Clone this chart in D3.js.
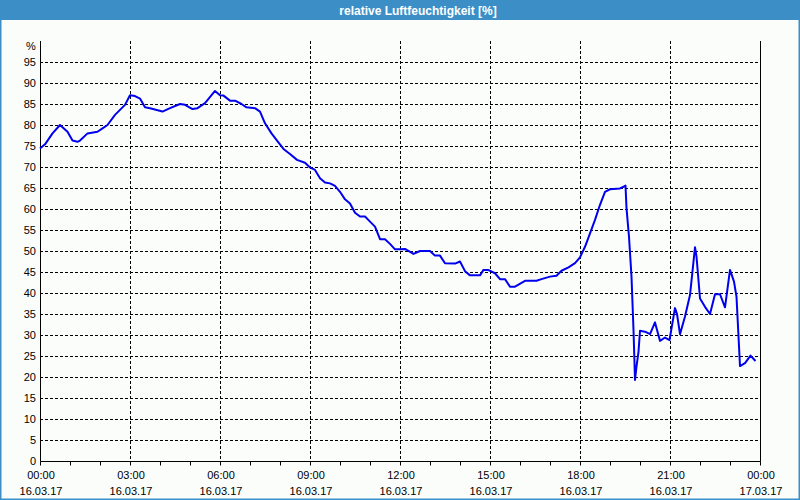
<!DOCTYPE html>
<meta charset="utf-8">
<style>
body { margin: 0; background: #fff; }
text { font-family: "Liberation Sans", Arial, sans-serif; }
</style>
<body>
<script src="https://d3js.org/d3.v7.min.js"></script>
<script>

// minutes after 16.03.17 00:00
var minutes = [
  0, 10, 25, 40, 55, 65, 75, 80, 95, 115, 125, 135, 150, 170, 180, 190, 200, 210,
  220, 245, 260, 280, 290, 305, 315, 330, 350, 360, 367, 380, 390, 403, 413, 430,
  440, 450, 463, 476, 487, 500, 514, 530, 540, 550, 560, 570, 580, 590, 600, 610,
  620, 630, 640, 650, 660, 670, 680, 690, 700, 710, 720, 730, 747, 760, 780, 790,
  800, 810, 830, 840, 850, 860, 880, 887, 896, 910, 920, 930, 940, 950, 970, 993,
  1003, 1020, 1033, 1043, 1057, 1070, 1080, 1090, 1100, 1110, 1120, 1130, 1140,
  1160, 1167, 1171, 1173, 1178, 1183, 1187, 1190, 1193, 1197, 1200, 1210, 1220,
  1230, 1240, 1250, 1259, 1270, 1274, 1280, 1290, 1300, 1310, 1313, 1320, 1330,
  1340, 1350, 1360, 1370, 1380, 1388, 1393, 1400, 1410, 1421, 1431
];

// relative humidity in %
var humidity = [
  74.4, 75.4, 78.0, 80.0, 78.4, 76.3, 76.0, 76.3, 78.0, 78.4, 79.2, 80.0, 82.4, 84.8, 87.1, 86.9, 86.3, 84.2,
  84.0, 83.2, 84.0, 85.0, 84.8, 83.8, 84.0, 85.2, 88.1, 87.1, 87.0, 85.8, 85.8, 85.0, 84.2, 84.0,
  83.2, 80.4, 78.0, 76.0, 74.3, 73.1, 71.7, 71.0, 69.9, 69.3, 67.3, 66.3, 66.1, 65.5, 64.1, 62.3,
  61.3, 59.1, 58.2, 58.2, 57.0, 55.8, 52.8, 52.8, 51.7, 50.4, 50.4, 50.5, 49.3, 50.0, 50.0, 48.9,
  48.9, 47.1, 47.0, 47.5, 45.2, 44.2, 44.2, 45.5, 45.5, 44.7, 43.3, 43.3, 41.5, 41.5, 42.9, 42.9,
  43.3, 43.9, 44.1, 45.3, 46.1, 47.1, 48.5, 51.0, 54.2, 57.4, 61.0, 64.1, 64.7,
  64.9, 65.3, 65.6, 60.2, 53.4, 43.9, 31.2, 19.3, 22.5, 26.0, 31.0, 30.8, 30.2,
  33.0, 28.6, 29.4, 28.8, 36.4, 35.0, 30.2, 34.4, 39.5, 50.9, 48.7, 38.7, 36.7,
  35.0, 39.7, 39.7, 36.6, 45.5, 42.7, 39.1, 22.6, 23.3, 25.1, 23.8
];

var yTicks = [0, 5, 10, 15, 20, 25, 30, 35, 40, 45, 50, 55, 60, 65, 70, 75, 80, 85, 90, 95];
var xTickHours = [0, 3, 6, 9, 12, 15, 18, 21, 24];
var xTickTimes = ["00:00", "03:00", "06:00", "09:00", "12:00", "15:00", "18:00", "21:00", "00:00"];
var xTickDates = ["16.03.17", "16.03.17", "16.03.17", "16.03.17", "16.03.17", "16.03.17", "16.03.17", "16.03.17", "17.03.17"];

var width = 800, height = 500,
    plotLeft = 40, plotRight = 760, plotTop = 41, plotBottom = 461;

var svg = d3.select("body").append("svg")
    .attr("width", width)
    .attr("height", height);

var x = d3.scaleLinear().domain([0, 24 * 60]).range([plotLeft, plotRight]);
var y = d3.scaleLinear().domain([0, 100]).range([plotBottom, plotTop]);

// frame + title bar
svg.append("rect")
    .attr("x", 0).attr("y", 0)
    .attr("width", width).attr("height", height)
    .style("fill", "#fbfdfb");
svg.append("rect")
    .attr("x", 0.5).attr("y", 0.5)
    .attr("width", width - 1).attr("height", height - 1)
    .style("fill", "none")
    .style("stroke", "#3b8fc6")
    .style("stroke-width", 2);
svg.append("rect")
    .attr("x", 0).attr("y", 0)
    .attr("width", width).attr("height", 20)
    .style("fill", "#3b8fc6");
svg.append("text")
    .attr("x", 418).attr("y", 14.5)
    .attr("text-anchor", "middle")
    .style("fill", "#fff")
    .style("font-size", "12px")
    .style("font-weight", "bold")
    .text("relative Luftfeuchtigkeit [%]");

// grid
svg.selectAll("line.hgrid")
    .data(yTicks.filter(function(d) { return d > 0; }))
  .enter().append("line")
    .attr("class", "hgrid")
    .attr("x1", plotLeft).attr("x2", plotRight)
    .attr("y1", function(d) { return Math.round(y(d)) + 0.5; })
    .attr("y2", function(d) { return Math.round(y(d)) + 0.5; })
    .style("stroke", "#000")
    .style("stroke-dasharray", "3,2");

svg.selectAll("line.vgrid")
    .data(xTickHours.slice(1, -1))
  .enter().append("line")
    .attr("class", "vgrid")
    .attr("x1", function(d) { return Math.round(x(d * 60)) + 0.5; })
    .attr("x2", function(d) { return Math.round(x(d * 60)) + 0.5; })
    .attr("y1", plotTop).attr("y2", plotBottom)
    .style("stroke", "#000")
    .style("stroke-dasharray", "3,2");

// x axis with hourly minor ticks
var xAxis = d3.axisBottom(x)
    .tickValues(d3.range(0, 25).map(function(h) { return h * 60; }))
    .tickSize(4)
    .tickFormat("");
var gx = svg.append("g")
    .attr("transform", "translate(0," + (plotBottom + 0.5) + ")")
    .call(xAxis);
gx.select(".domain").remove();
gx.selectAll("line").style("stroke", "#000");

svg.selectAll("text.xtime")
    .data(xTickHours)
  .enter().append("text")
    .attr("class", "xtime")
    .attr("x", function(d) { return x(d * 60) + 1; })
    .attr("y", 479)
    .attr("text-anchor", "middle")
    .style("font-size", "11px")
    .text(function(d, i) { return xTickTimes[i]; });

svg.selectAll("text.xdate")
    .data(xTickHours)
  .enter().append("text")
    .attr("class", "xdate")
    .attr("x", function(d) { return x(d * 60) + 1; })
    .attr("y", 495)
    .attr("text-anchor", "middle")
    .style("font-size", "11px")
    .text(function(d, i) { return xTickDates[i]; });

// y axis labels
var yAxis = d3.axisLeft(y)
    .tickValues(yTicks)
    .tickSize(0)
    .tickPadding(4);
var gy = svg.append("g")
    .attr("transform", "translate(" + plotLeft + ",0)")
    .call(yAxis);
gy.select(".domain").remove();
gy.selectAll("text")
    .style("font-family", "Liberation Sans, Arial, sans-serif")
    .style("font-size", "11px")
    .style("fill", "#000");

svg.append("text")
    .attr("x", 31).attr("y", 50)
    .attr("text-anchor", "middle")
    .style("font-size", "11px")
    .text("%");

// plot border lines
svg.append("path")
    .attr("d", "M" + (plotLeft + 0.5) + "," + plotTop + "V" + (plotBottom + 0.5) + "H" + (plotRight + 0.5) + "V" + plotTop)
    .style("fill", "none")
    .style("stroke", "#000");

// humidity line
var line = d3.line()
    .x(function(d, i) { return x(minutes[i]); })
    .y(function(d) { return y(d); });

svg.append("path")
    .datum(humidity)
    .attr("d", line)
    .style("fill", "none")
    .style("stroke", "#0000ee")
    .style("stroke-width", 2)
    .style("stroke-linejoin", "round");

</script>
